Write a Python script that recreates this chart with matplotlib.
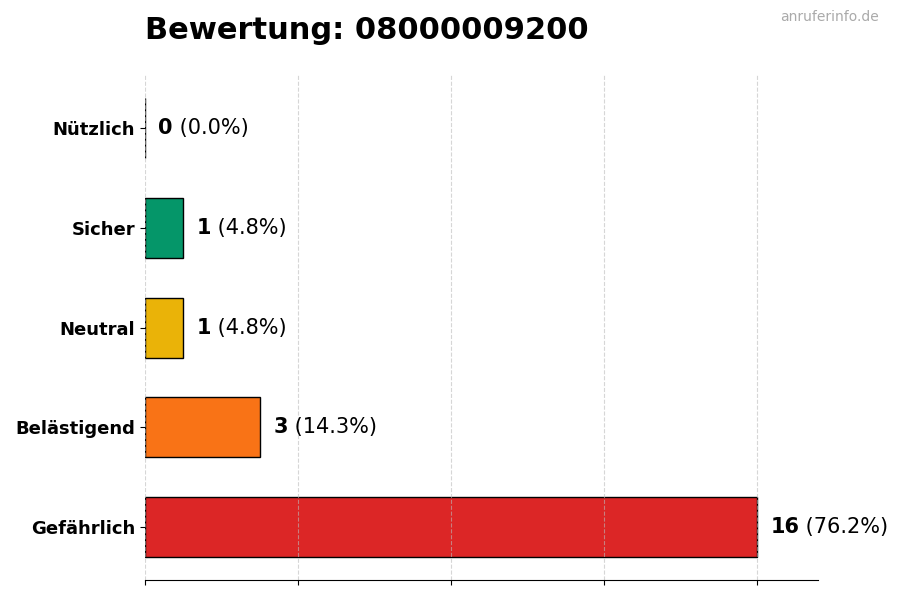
import matplotlib.pyplot as plt

# data
categories = ['Gefährlich', 'Belästigend', 'Neutral', 'Sicher', 'Nützlich']
counts = [16, 3, 1, 1, 0]
percents = [76.2, 14.3, 4.8, 4.8, 0.0]
colors = ['#dc2626', '#f97316', '#eab308', '#059669', '#3b82f6']
number = '08000009200'

fig = plt.figure(figsize=(9, 6), dpi=100)
ax = fig.add_axes([0.161, 0.033, 0.748, 0.842])

bars = ax.barh(categories, counts, height=0.6, color=colors,
               edgecolor='black', linewidth=1)

xmax = max(counts) * 1.1
ax.set_xlim(0, xmax)
ax.set_xticks([0, 4, 8, 12, 16])
ax.set_xticklabels([])
ax.grid(axis='x', linestyle='--', color='#bbbbbb', linewidth=0.8, alpha=0.6)

for i, (c, p) in enumerate(zip(counts, percents)):
    x = c + xmax * 0.02
    t = ax.text(x, i, str(c), va='center', ha='left', fontsize=15,
                fontweight='bold')
    ax.annotate(f' ({p:.1f}%)', xycoords=t, xy=(1, 0.5), va='center',
                ha='left', fontsize=15)

for lbl in ax.get_yticklabels():
    lbl.set_fontweight('bold')
    lbl.set_fontsize(13)

for s in ['top', 'right', 'left']:
    ax.spines[s].set_visible(False)

fig.text(0.161, 0.925, f'Bewertung: {number}', fontsize=22,
         fontweight='bold', ha='left', va='bottom')
fig.text(0.976, 0.96, 'anruferinfo.de', fontsize=10, color='#aaaaaa',
         ha='right', va='bottom')

fig.savefig('out.png', dpi=100)
